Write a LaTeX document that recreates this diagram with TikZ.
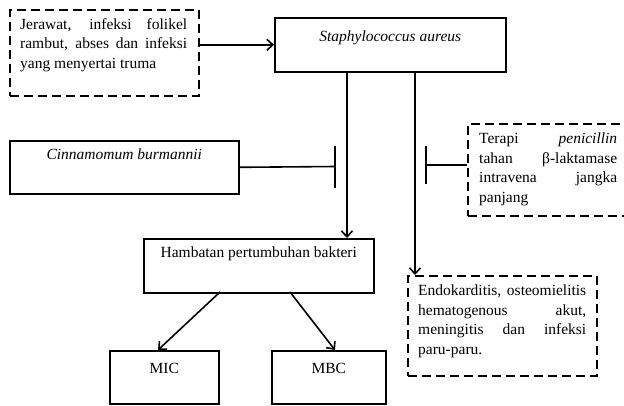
\documentclass[tikz,border=0pt]{standalone}
\usepackage{fontspec}
\setmainfont{Liberation Serif}
\usetikzlibrary{arrows.meta}
\tikzset{
  txt/.style={font=\fontsize{15.5}{19.5}\selectfont},
  sbox/.style={draw, line width=1.6pt, inner sep=0pt, align=center, txt},
  dbox/.style={draw, line width=1.6pt, dash pattern=on 9pt off 5pt, inner sep=0pt, anchor=north west},
  ptxt/.style={txt, align=left, inner sep=0pt, anchor=north west},
  arr/.style={line width=1.6pt, -{Straight Barb[length=6pt,width=11pt,line width=1.6pt]}},
  inh/.style={line width=1.6pt},
}
\begin{document}
\begin{tikzpicture}[x=1pt,y=-1pt]
\useasboundingbox (0,0) rectangle (624,405);
% solid boxes
\node[sbox, anchor=north west, minimum width=231pt, text height=24pt, text depth=30pt] (staph) at (274,17) {\textit{Staphylococcus aureus}};
\node[sbox, anchor=north west, minimum width=229pt, text height=19pt, text depth=34pt] (cin) at (9,140) {\textit{Cinnamomum burmannii}};
\node[sbox, anchor=north west, minimum width=230pt, text height=19pt, text depth=35pt] (ham) at (143,238) {Hambatan pertumbuhan bakteri};
\node[sbox, anchor=north west, minimum width=109pt, text height=23pt, text depth=30pt] (mic) at (109,350) {MIC};
\node[sbox, anchor=north west, minimum width=114pt, text height=23pt, text depth=30pt] (mbc) at (271,350) {MBC};
% dashed boxes
\node[dbox, minimum width=189pt, minimum height=86pt] (jer) at (9,9) {};
\node[ptxt] (jerT) at (20,18) {\makebox[167pt][s]{Jerawat, infeksi folikel}\\\makebox[167pt][s]{rambut, abses dan infeksi}\\yang menyertai truma};
\node[dbox, minimum width=163pt, minimum height=92pt] (ter) at (467,123) {};
\node[ptxt] (terT) at (479,133) {\makebox[138pt][s]{Terapi \textit{penicillin}}\\\makebox[138pt][s]{tahan β-laktamase}\\\makebox[138pt][s]{intravena jangka}\\panjang};
\node[dbox, minimum width=189pt, minimum height=100pt] (endo) at (407,275) {};
\node[ptxt] (endoT) at (418,285) {\makebox[168pt][s]{Endokarditis, osteomielitis}\\\makebox[168pt][s]{hematogenous akut,}\\\makebox[168pt][s]{meningitis dan infeksi}\\paru-paru.};
% helper coordinates
\coordinate (s1) at (347,71);
\coordinate (s2) at (415,71);
\coordinate (cbar) at (335,166.5);
\coordinate (tstart) at (467,165);
\coordinate (tbar) at (426,165);
\coordinate (h1) at (220,292);
\coordinate (h2) at (290,292);
\coordinate (m1) at (158,350);
\coordinate (m2) at (335,350);
% connectors
\draw[arr] (staph.west -| jer.east) -- (staph.west);
\draw[arr] (s1) -- (s1 |- ham.north);
\draw[arr] (s2) -- (s2 |- endo.north);
\draw[inh] (cin.east) -- (cbar);
\draw[inh] ([yshift=21pt]cbar) -- ([yshift=-21pt]cbar);
\draw[inh] (tstart) -- (tbar);
\draw[inh] ([yshift=19pt]tbar) -- ([yshift=-19pt]tbar);
\draw[arr] (h1) -- (m1);
\draw[arr] (h2) -- (m2);
\end{tikzpicture}
\end{document}
